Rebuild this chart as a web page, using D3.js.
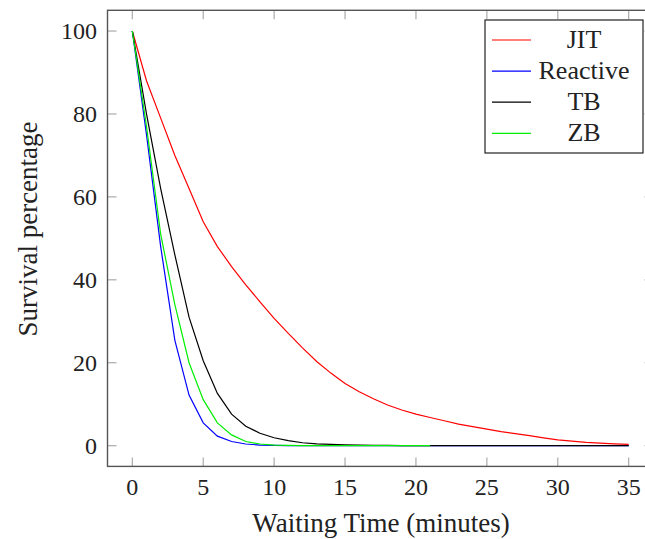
<!DOCTYPE html>
<html>
<head>
<meta charset="utf-8">
<script src="https://cdn.jsdelivr.net/npm/d3@7"></script>
<style>
  body { margin: 0; background: #fff; }
  text { font-family: "Liberation Serif", "Times New Roman", serif; fill: #222; }
</style>
</head>
<body>
<svg id="chart" width="645" height="539"></svg>
<script>
// survival curves, one value per minute
var jit = [100, 88, 79, 70, 62, 54, 48, 43.2, 38.8, 34.7, 30.7, 27.1, 23.6, 20.3, 17.5, 15, 13, 11.3, 9.8, 8.6, 7.6,
           6.8, 6.0, 5.2, 4.6, 4.0, 3.4, 2.9, 2.4, 1.9, 1.4, 1.1, 0.8, 0.6, 0.45, 0.3];
var reactive = [100, 75, 48, 25.4, 12.2, 5.5, 2.3, 1.0, 0.4, 0.15, 0.06, 0.02, 0.01, 0, 0, 0, 0, 0, 0, 0, 0,
                0, 0, 0, 0, 0, 0, 0, 0, 0, 0, 0, 0, 0, 0, 0];
var tb = [100, 80, 62, 46, 31, 20.5, 12.6, 7.6, 4.7, 3.0, 1.9, 1.2, 0.7, 0.45, 0.3, 0.2, 0.12, 0.08, 0.05, 0.03, 0.02,
          0.01, 0, 0, 0, 0, 0, 0, 0, 0, 0, 0, 0, 0, 0, 0];
var zb = [100, 77, 51, 34, 20, 11.1, 5.5, 2.6, 1.0, 0.4, 0.15, 0.06, 0.02, 0.01, 0, 0, 0, 0, 0, 0, 0, 0];

var xTicks = [0, 5, 10, 15, 20, 25, 30, 35];
var yTicks = [0, 20, 40, 60, 80, 100];

var seriesNames = ["JIT", "Reactive", "TB", "ZB"];
var seriesColors = ["#ff0000", "#0000ff", "#000000", "#00ee00"];
var seriesData = [jit, reactive, tb, zb];

var svg = d3.select("#chart");

var x = d3.scaleLinear().domain([-1.75, 36.75]).range([107.5, 653.5]);
var y = d3.scaleLinear().domain([-5, 105]).range([466.4, 10.3]);

var tickLen = 9;

// ticks (inward, all four sides)
var g = svg.append("g");
g.selectAll(".xt").data(xTicks).enter().append("line")
    .attr("x1", d => x(d)).attr("x2", d => x(d))
    .attr("y1", y.range()[0]).attr("y2", y.range()[0] - tickLen)
    .attr("stroke", "#aaa").attr("stroke-width", 1.2);
g.selectAll(".xt2").data(xTicks).enter().append("line")
    .attr("x1", d => x(d)).attr("x2", d => x(d))
    .attr("y1", y.range()[1]).attr("y2", y.range()[1] + tickLen)
    .attr("stroke", "#aaa").attr("stroke-width", 1.2);
g.selectAll(".yt").data(yTicks).enter().append("line")
    .attr("x1", x.range()[0]).attr("x2", x.range()[0] + tickLen)
    .attr("y1", d => y(d)).attr("y2", d => y(d))
    .attr("stroke", "#aaa").attr("stroke-width", 1.2);
g.selectAll(".yt2").data(yTicks).enter().append("line")
    .attr("x1", x.range()[1]).attr("x2", x.range()[1] - tickLen)
    .attr("y1", d => y(d)).attr("y2", d => y(d))
    .attr("stroke", "#aaa").attr("stroke-width", 1.2);

// tick labels
g.selectAll(".xl").data(xTicks).enter().append("text")
    .attr("x", d => x(d)).attr("y", 495)
    .attr("text-anchor", "middle").attr("font-size", 24)
    .text(d => d);
g.selectAll(".yl").data(yTicks).enter().append("text")
    .attr("x", 97).attr("y", d => y(d) + 8)
    .attr("text-anchor", "end").attr("font-size", 24)
    .text(d => d);

// curves
var line = d3.line().x((d, i) => x(i)).y(d => y(d));
seriesData.forEach(function(s, i) {
    svg.append("path").datum(s)
        .attr("d", line)
        .attr("fill", "none")
        .attr("stroke", seriesColors[i])
        .attr("stroke-width", 1.2);
});

// frame
svg.append("rect")
    .attr("x", x.range()[0]).attr("y", y.range()[1])
    .attr("width", x.range()[1] - x.range()[0])
    .attr("height", y.range()[0] - y.range()[1])
    .attr("fill", "none").attr("stroke", "#555").attr("stroke-width", 1.4);

// axis titles
svg.append("text").attr("x", 381).attr("y", 532)
    .attr("text-anchor", "middle").attr("font-size", 27)
    .text("Waiting Time (minutes)");
svg.append("text")
    .attr("transform", "translate(37,229) rotate(-90)")
    .attr("text-anchor", "middle").attr("font-size", 27)
    .text("Survival percentage");

// legend
var lg = svg.append("g");
lg.append("rect").attr("x", 485).attr("y", 20).attr("width", 158).attr("height", 133)
    .attr("fill", "#fff").attr("stroke", "#222").attr("stroke-width", 1.2);
seriesNames.forEach(function(n, i) {
    var ly = 40 + i * 31.1;
    lg.append("line").attr("x1", 492).attr("x2", 531).attr("y1", ly).attr("y2", ly)
        .attr("stroke", seriesColors[i]).attr("stroke-width", 1.2);
    lg.append("text").attr("x", 584).attr("y", ly + 8)
        .attr("text-anchor", "middle").attr("font-size", 26)
        .text(n);
});
</script>
</body>
</html>
